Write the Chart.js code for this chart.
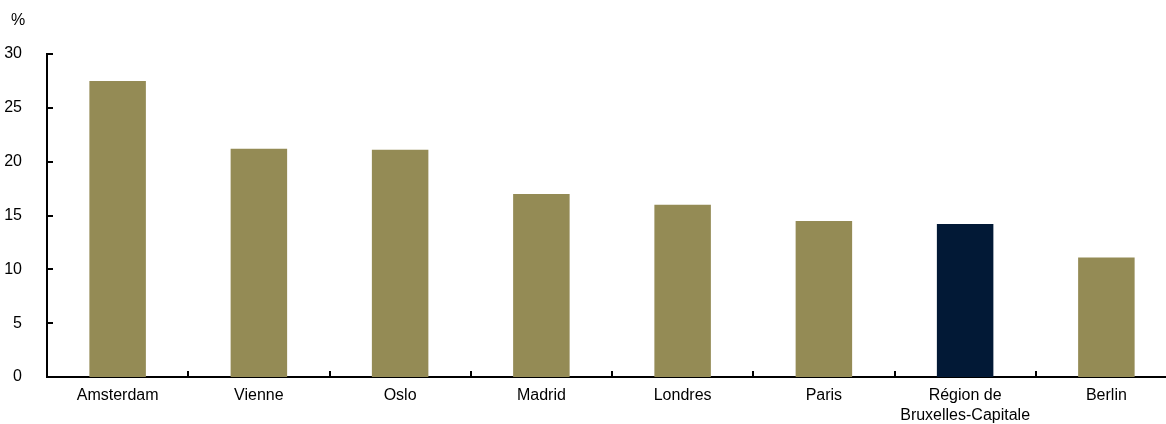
<!DOCTYPE html>
<html lang="fr">
<head>
    <meta charset="UTF-8">
    <title>Part en %</title>
    <script src="https://cdn.jsdelivr.net/npm/chart.js"></script>
    <style>
        html, body { margin: 0; padding: 0; background: #fff; overflow: hidden; }
        #chart-container { width: 1178px; height: 424px; position: relative; }
    </style>
</head>
<body>
    <div id="chart-container">
        <canvas id="cityChart"></canvas>
    </div>

    <script>
        const cities = ['Amsterdam', 'Vienne', 'Oslo', 'Madrid', 'Londres', 'Paris', ['Région de', 'Bruxelles-Capitale'], 'Berlin'];
        const shares = [27.5, 21.2, 21.1, 17.0, 16.0, 14.5, 14.2, 11.1];
        const yTicks = [0, 5, 10, 15, 20, 25, 30];

        const olive = '#948B55';
        const navy = '#021936';
        const barColors = cities.map(c => Array.isArray(c) ? navy : olive);

        // short inward tick marks on both axes, plus the "%" unit label
        const axisMarks = {
            id: 'axisMarks',
            afterDraw(chart) {
                const { ctx, chartArea, scales } = chart;
                ctx.save();
                ctx.strokeStyle = '#000';
                ctx.lineWidth = 2;
                yTicks.forEach(v => {
                    const y = Math.round(scales.y.getPixelForValue(v));
                    ctx.beginPath();
                    ctx.moveTo(chartArea.left, y);
                    ctx.lineTo(chartArea.left + 6, y);
                    ctx.stroke();
                });
                for (let i = 1; i < cities.length; i++) {
                    const x = Math.round((scales.x.getPixelForValue(i - 1) + scales.x.getPixelForValue(i)) / 2);
                    ctx.beginPath();
                    ctx.moveTo(x, chartArea.bottom);
                    ctx.lineTo(x, chartArea.bottom - 6);
                    ctx.stroke();
                }
                ctx.fillStyle = '#000';
                ctx.font = '16px "Liberation Sans", Arial, sans-serif';
                ctx.textBaseline = 'middle';
                ctx.fillText('%', 11, 21);
                ctx.restore();
            }
        };

        new Chart(document.getElementById('cityChart'), {
            type: 'bar',
            data: {
                labels: cities,
                datasets: [{
                    data: shares,
                    backgroundColor: barColors,
                    barPercentage: 0.4,
                    categoryPercentage: 1
                }]
            },
            options: {
                responsive: true,
                maintainAspectRatio: false,
                animation: false,
                layout: { padding: { top: 54, right: 1, left: 0, bottom: 0 } },
                plugins: { legend: { display: false }, tooltip: { enabled: false } },
                scales: {
                    x: {
                        grid: { display: false },
                        border: { display: true, color: '#000', width: 2 },
                        afterFit(scale) { scale.height = 47; },
                        ticks: {
                            color: '#000',
                            padding: 1,
                            maxRotation: 0,
                            autoSkip: false,
                            font: { family: '"Liberation Sans", Arial, sans-serif', size: 16, lineHeight: 1.25 }
                        }
                    },
                    y: {
                        min: 0,
                        max: 30,
                        grid: { display: false },
                        border: { display: true, color: '#000', width: 2 },
                        afterFit(scale) { scale.width = 47; },
                        ticks: {
                            stepSize: 5,
                            color: '#000',
                            padding: 17,
                            font: { family: '"Liberation Sans", Arial, sans-serif', size: 16 }
                        }
                    }
                }
            },
            plugins: [axisMarks]
        });
    </script>
</body>
</html>
